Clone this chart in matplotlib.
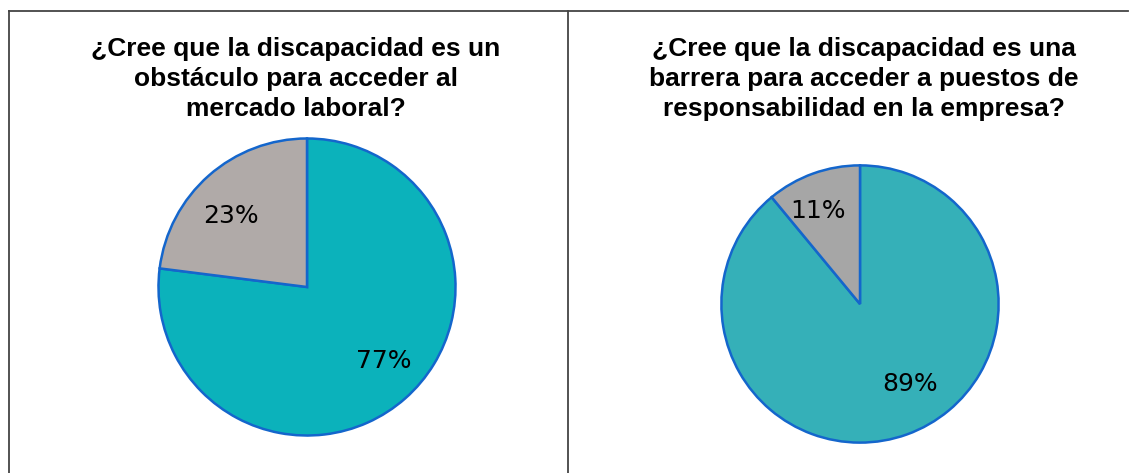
import matplotlib
matplotlib.use("Agg")
import matplotlib.pyplot as plt
from matplotlib.lines import Line2D

# datos de las dos encuestas
titulo1 = "¿Cree que la discapacidad es un\nobstáculo para acceder al\nmercado laboral?"
titulo2 = "¿Cree que la discapacidad es una\nbarrera para acceder a puestos de\nresponsabilidad en la empresa?"
valores1 = [77, 23]
valores2 = [89, 11]
colores1 = ["#0bb2bb", "#b0aaa8"]
colores2 = ["#35b0b8", "#a6a6a6"]

W, H = 1136, 473
fig = plt.figure(figsize=(W / 100, H / 100), dpi=100)

# marco de las celdas
fig.add_artist(Line2D([9 / W, 1128 / W], [1 - 11 / H, 1 - 11 / H], color="#444444", lw=1.3))
fig.add_artist(Line2D([9 / W, 9 / W], [0, 1 - 11 / H], color="#444444", lw=1.3))
fig.add_artist(Line2D([568 / W, 568 / W], [0, 1 - 11 / H], color="#444444", lw=1.3))


def tarta(cx, cy, r, valores, colores, titulo, tx, pos_etiquetas):
    ax = fig.add_axes([(cx - r) / W, 1 - (cy + r) / H, 2 * r / W, 2 * r / H])
    _, _, etiquetas = ax.pie(valores, colors=colores, startangle=90, counterclock=False,
                             autopct="%1.0f%%", pctdistance=0.71,
                             wedgeprops=dict(edgecolor="#1466cc", linewidth=1.8),
                             textprops=dict(fontsize=18, color="black", family="DejaVu Sans"))
    # Excel coloca las etiquetas un poco distinto
    for t, p in zip(etiquetas, pos_etiquetas):
        t.set_position(p)
    ax.set_xlim(-1.01, 1.01)
    ax.set_ylim(-1.01, 1.01)
    ax.set_aspect("equal")
    fig.text(tx / W, 1 - 79 / H, titulo, ha="center", va="center", fontsize=19,
             fontweight="bold", family="Liberation Sans", linespacing=1.32)


tarta(307, 287, 150, valores1, colores1, titulo1, 296, [(0.52, -0.50), (-0.51, 0.48)])
tarta(860, 304, 140, valores2, colores2, titulo2, 864, [(0.36, -0.58), (-0.30, 0.67)])

fig.savefig("out.png", dpi=100)
